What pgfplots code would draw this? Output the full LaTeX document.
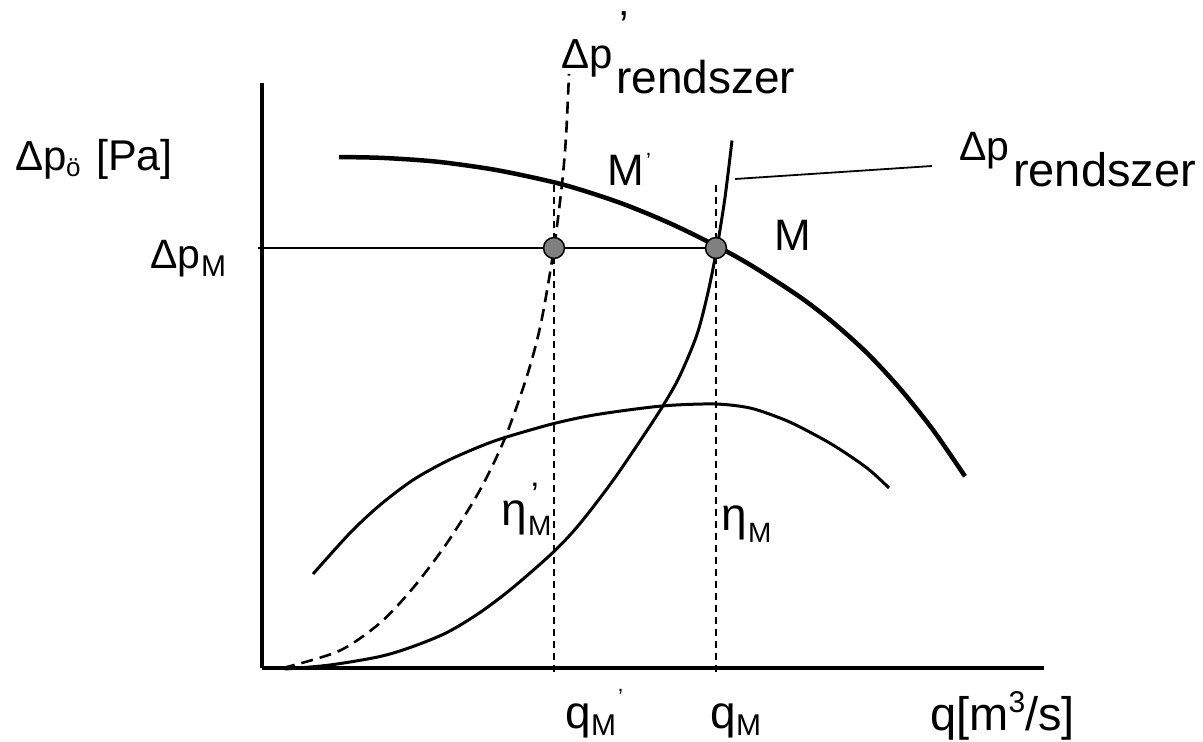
\documentclass[border=0pt]{standalone}
\usepackage{fontspec}
\setmainfont{Liberation Sans}
\usepackage{pgfplots}
\pgfplotsset{compat=1.18}
\newcommand\fs[1]{\fontsize{#1bp}{#1bp}\selectfont}
\tikzset{lbl/.style={inner sep=0pt, anchor=base west}}

\begin{document}
\begin{tikzpicture}
\useasboundingbox (-262bp,-74bp) rectangle (941bp,668bp);
\begin{axis}[
    x=1bp, y=1bp,
    xmin=262, xmax=1044,
    ymin=74, ymax=659,
    axis lines=left,
    axis line style={-, line width=3.6bp},
    xtick=\empty, ytick=\empty,
    clip=false,
]
% operating point line and leader line
\addplot[line width=2bp] coordinates {(258,494) (716,494)};
\addplot[line width=1.8bp] coordinates {(735,563) (932,576)};
% vertical guides at q_M' and q_M
\addplot[line width=1.3bp, dash pattern=on 7bp off 5bp] coordinates {(554,557) (554,70)};
\addplot[line width=1.3bp, dash pattern=on 7bp off 5bp] coordinates {(716,557) (716,70)};
% efficiency curve
\addplot[line width=3bp, smooth, line join=round] coordinates {
    (313,168) (350,209) (380,237) (413,262) (447,281) (480,295.5) (505,304.5)
    (554,318.5) (597,327.5) (662,336) (715,338) (750,334) (780,324) (800,315)
    (833,297) (867,274) (889,254)};
% system curve
\addplot[line width=3bp, smooth, line join=round] coordinates {
    (285,73) (330,77) (380,85.5) (413,95.5) (447,109.5) (480,129.5) (513,154.5)
    (554,190.5) (580,218.5) (613,261.5) (647,311.5) (665,339.5) (680,366.5)
    (697,407.5) (708,449.5) (717,494.5) (725,544.5) (732,601.5)};
% modified system curve (dashed)
\addplot[line width=2.6bp, smooth, dash pattern=on 12bp off 7bp] coordinates {
    (283,74) (339,91) (380,119) (413,154) (447,199) (480,252) (505,304)
    (527,366) (541,419) (554,494) (562,558) (566,605) (569,668)};
% pump curve
\addplot[line width=4.5bp, smooth, line join=round] coordinates {
    (339,585) (380,584.2) (420,581.8) (450,578.8) (500,571.3) (563,557.4)
    (620,539.2) (670,518.7) (717,495.7) (753,475.5) (800,445) (833,419.6)
    (867,389) (900,353.4) (933,312.1) (965,265.7)};
% operating points
\addplot[only marks, mark=*, mark size=10.5, mark options={fill=gray, draw=black, line width=1.5bp}]
    coordinates {(554,494) (716,494)};

% labels
\node[lbl] at (axis cs:15,572) {\fs{42}Δp};
\node[lbl] at (axis cs:66,566) {\fs{26}ö};
\node[lbl] at (axis cs:96,572) {\fs{43}[Pa]};
\node[lbl] at (axis cs:150,474) {\fs{41}Δp};
\node[lbl] at (axis cs:201,466) {\fs{30}M};
\node[lbl] at (axis cs:561,674) {\fs{42}Δp};
\node[lbl] at (axis cs:619,702) {\fs{42}'};
\node[lbl] at (axis cs:616,649) {\fs{46}rendszer};
\node[lbl] at (axis cs:959,582) {\fs{41}Δp};
\node[lbl] at (axis cs:1013,556) {\fs{47}rendszer};
\node[lbl] at (axis cs:607,557) {\fs{44}M};
\node[lbl] at (axis cs:646,574) {\fs{22}’};
\node[lbl] at (axis cs:774,492) {\fs{44}M};
\node[lbl] at (axis cs:501,217) {\fs{46}η};
\node[lbl] at (axis cs:528,207) {\fs{28}M};
\node[lbl] at (axis cs:531,236) {\fs{34}'};
\node[lbl] at (axis cs:721,212) {\fs{46}η};
\node[lbl] at (axis cs:748,200) {\fs{28}M};
\node[lbl] at (axis cs:565,14) {\fs{46}q};
\node[lbl] at (axis cs:591,7) {\fs{30}M};
\node[lbl] at (axis cs:618,38) {\fs{22}’};
\node[lbl] at (axis cs:710,14) {\fs{46}q};
\node[lbl] at (axis cs:736,7) {\fs{30}M};
\node[lbl] at (axis cs:930,12) {\fs{47}q[m\raisebox{18bp}{\fs{30}3}/s]};
\end{axis}
\end{tikzpicture}
\end{document}
